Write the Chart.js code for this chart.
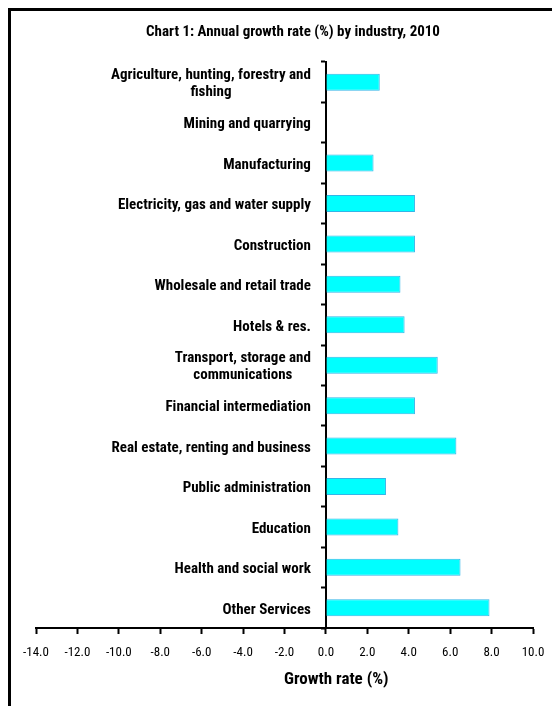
<!DOCTYPE html>
<html>
<head>
<meta charset="utf-8">
<script src="https://cdn.jsdelivr.net/npm/chart.js@4/dist/chart.umd.min.js"></script>
<style>
  html, body { margin: 0; padding: 0; background: #fff; overflow: hidden; }
  #wrap { position: relative; width: 552px; height: 706px; }
</style>
</head>
<body>
<div id="wrap"><canvas id="c" width="552" height="706"></canvas></div>
<script>
// Industries (top to bottom) and their 2010 growth rates, in percent
const industries = [
  ['Agriculture, hunting, forestry and', 'fishing'],
  'Mining and quarrying',
  'Manufacturing',
  'Electricity, gas and water supply',
  'Construction',
  'Wholesale and retail trade',
  'Hotels & res.',
  ['Transport, storage and', 'communications'],
  'Financial intermediation',
  'Real estate, renting and business',
  'Public administration',
  'Education',
  'Health and social work',
  'Other Services'
];
const growthRate = [2.6, 0, 2.3, 4.3, 4.3, 3.6, 3.8, 5.4, 4.3, 6.3, 2.9, 3.5, 6.5, 7.9];
const xTickValues = [-14, -12, -10, -8, -6, -4, -2, 0, 2, 4, 6, 8, 10];
const chartTitle = 'Chart 1: Annual growth rate (%) by industry, 2010';
const xAxisTitle = 'Growth rate (%)';

const FONT = "'Roboto Condensed', 'Open Sans Condensed', Roboto, sans-serif";

// Frame around the figure, the titles, and the category labels set to the
// left of the zero line (each label's lines centred on one another)
const decorations = {
  id: 'decorations',
  beforeDraw(chart) {
    const ctx = chart.ctx;
    ctx.save();
    ctx.strokeStyle = '#000';
    ctx.lineWidth = 3;
    ctx.strokeRect(9.5, 9.5, 570, 720);
    ctx.restore();
  },
  afterDraw(chart) {
    const ctx = chart.ctx;
    const xs = chart.scales.x;
    const ys = chart.scales.y;
    ctx.save();
    ctx.fillStyle = '#000';
    ctx.textBaseline = 'middle';

    ctx.textAlign = 'center';
    ctx.font = 'bold 15px ' + FONT;
    ctx.fillText(chartTitle, 293, 32);
    ctx.font = 'bold 17px ' + FONT;
    ctx.fillText(xAxisTitle, xs.getPixelForValue(0.5), 680);

    ctx.font = 'bold 15px ' + FONT;
    const right = xs.getPixelForValue(0) - 15;
    const lineH = 17;
    ys.getLabels().forEach((lab, i) => {
      const lines = Array.isArray(lab) ? lab : [lab];
      const widest = Math.max(...lines.map(l => ctx.measureText(l).width));
      const cx = right - widest / 2;
      const cy = ys.getPixelForTick(i) + 2;
      const y0 = cy - (lines.length - 1) * lineH / 2;
      lines.forEach((l, k) => ctx.fillText(l, cx, y0 + k * lineH));
    });
    ctx.restore();
  }
};

new Chart(document.getElementById('c'), {
  type: 'bar',
  data: {
    labels: industries,
    datasets: [{
      data: growthRate,
      backgroundColor: '#00FFFF',
      borderColor: '#33B5E8',
      borderWidth: 1,
      borderSkipped: 'start',
      barPercentage: 0.42,
      categoryPercentage: 1
    }]
  },
  options: {
    indexAxis: 'y',
    responsive: false,
    animation: false,
    devicePixelRatio: 1,
    layout: { padding: { top: 62, left: 36, right: 19, bottom: 38 } },
    plugins: { legend: { display: false }, tooltip: { enabled: false }, title: { display: false } },
    scales: {
      x: {
        type: 'linear',
        position: 'bottom',
        min: -14,
        max: 10,
        afterBuildTicks(scale) { scale.ticks = xTickValues.map(v => ({ value: v })); },
        afterFit(scale) { scale.height = 40; scale.paddingLeft = 0; scale.paddingRight = 0; },
        border: { display: true, color: '#000', width: 2 },
        grid: { display: true, drawOnChartArea: false, drawTicks: true, tickLength: 6, tickWidth: 2, tickColor: '#000' },
        ticks: {
          padding: 11,
          color: '#000',
          maxRotation: 0,
          autoSkip: false,
          font: { family: FONT, size: 13 },
          callback: v => Number(v).toFixed(1)
        }
      },
      y: {
        position: { x: 0 },
        offset: true,
        border: { display: true, color: '#000', width: 2 },
        grid: { display: true, offset: true, drawOnChartArea: false, drawTicks: true, tickLength: 4, tickWidth: 2, tickColor: '#000' },
        ticks: { display: false }
      }
    }
  },
  plugins: [decorations]
});
</script>
</body>
</html>
